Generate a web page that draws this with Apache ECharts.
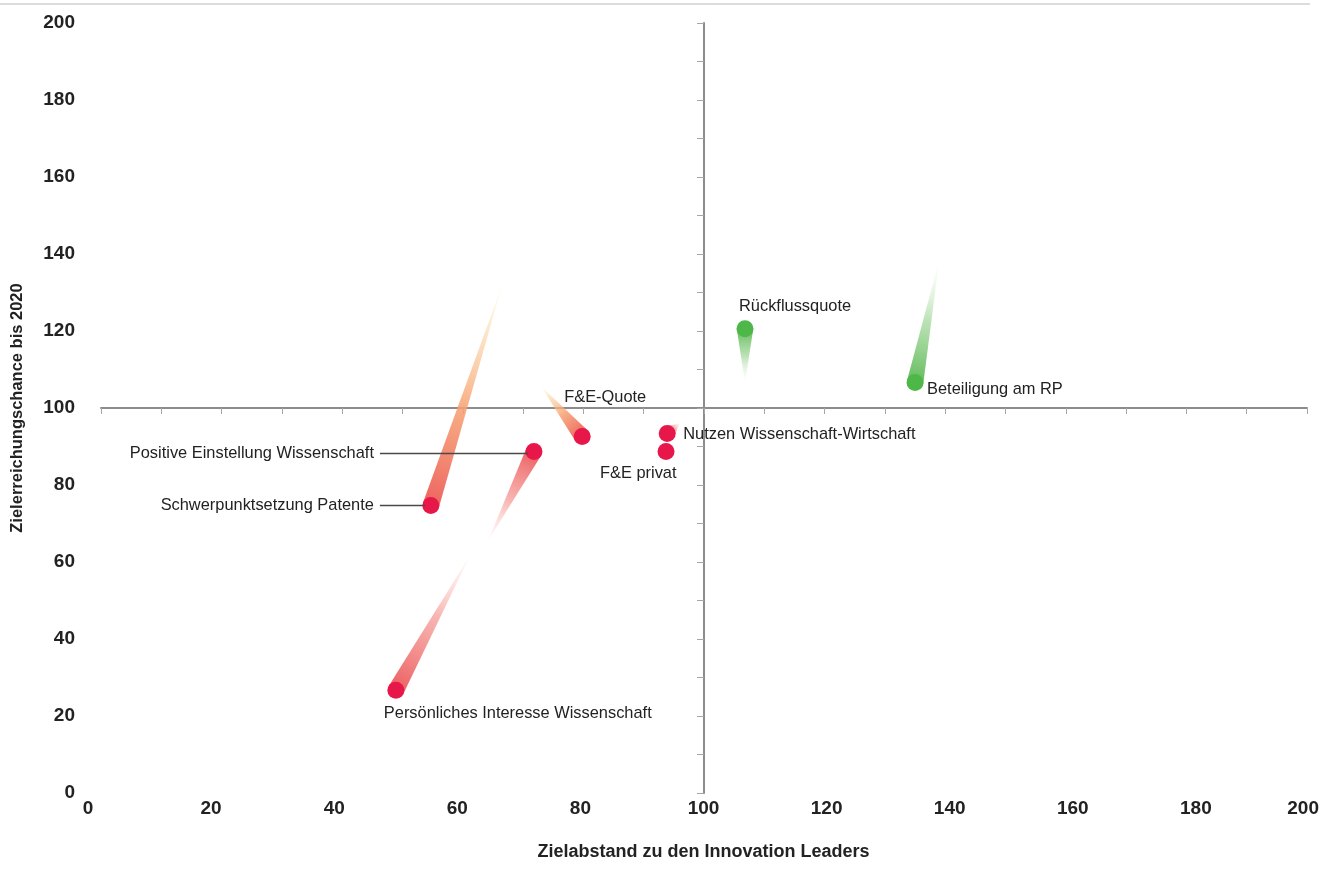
<!DOCTYPE html>
<html>
<head>
<meta charset="utf-8">
<script src="https://cdn.jsdelivr.net/npm/echarts@6/dist/echarts.min.js"></script>
<style>
html,body{margin:0;padding:0;background:#fff;}
#chart{width:1322px;height:888px;}
</style>
</head>
<body>
<div id="chart"></div>
<script>
// ---- data ----
const names = ['Rückflussquote', 'Beteiligung am RP', 'F&E-Quote', 'Nutzen Wissenschaft-Wirtschaft', 'F&E privat', 'Positive Einstellung Wissenschaft', 'Schwerpunktsetzung Patente', 'Persönliches Interesse Wissenschaft'];
const xNow  = [106.8, 135.0, 79.8, 93.9, 93.7, 71.8, 54.7, 48.9];
const yNow  = [120.6, 106.6, 92.6, 93.4, 88.7, 88.7, 74.7, 26.7];
const xPrev = [106.8, 139.0, 73.0, 96.0, null, 64.2, 66.5, 61.2];
const yPrev = [106.6, 138.3, 105.6, 96.0, null, 65.6, 131.8, 61.7];
const groups = ['green', 'green', 'red', 'red', 'red', 'red', 'red', 'red'];
const axisTicks = [0, 20, 40, 60, 80, 100, 120, 140, 160, 180, 200];
const xAxisTitle = 'Zielabstand zu den Innovation Leaders';
const yAxisTitle = 'Zielerreichungschance bis 2020';

// ---- styling ----
const RED = '#E8174A', GREEN = '#4DB848';
const tickFont = "'Liberation Sans', Arial, sans-serif";
const textFont = "'Liberation Sans', Arial, sans-serif";
const labelPlace = {
  'Rückflussquote': {align: 'left', offset: [-6, -22]},
  'Beteiligung am RP': {align: 'left', offset: [12, 7]},
  'F&E-Quote': {align: 'left', offset: [-18, -39]},
  'Nutzen Wissenschaft-Wirtschaft': {align: 'left', offset: [16, 1]},
  'F&E privat': {align: 'left', offset: [-66, 22]},
  'Positive Einstellung Wissenschaft': {align: 'right', offset: [-160, 2], leader: true},
  'Schwerpunktsetzung Patente': {align: 'right', offset: [-57, 0], leader: true},
  'Persönliches Interesse Wissenschaft': {align: 'left', offset: [-12, 23]}
};

function tailStops(i) {
  if (groups[i] === 'green') {
    return [{offset: 0, color: 'rgba(88,184,82,0.95)'}, {offset: 0.5, color: 'rgba(140,205,130,0.6)'}, {offset: 1, color: 'rgba(215,240,210,0)'}];
  }
  if (yPrev[i] > 100) {
    return [{offset: 0, color: 'rgba(236,92,88,0.95)'}, {offset: 0.45, color: 'rgba(247,160,112,0.85)'}, {offset: 0.8, color: 'rgba(252,210,160,0.55)'}, {offset: 1, color: 'rgba(255,238,200,0.15)'}];
  }
  return [{offset: 0, color: 'rgba(236,90,92,0.97)'}, {offset: 0.55, color: 'rgba(244,150,145,0.7)'}, {offset: 1, color: 'rgba(255,215,210,0.15)'}];
}

const pointData = names.map((n, i) => ({
  name: n,
  value: [xNow[i], yNow[i]],
  itemStyle: {color: groups[i] === 'green' ? GREEN : RED, opacity: 1},
  label: {
    show: true, position: 'inside', formatter: n,
    align: labelPlace[n].align, verticalAlign: 'middle',
    offset: labelPlace[n].offset,
    color: '#222', fontSize: 16.4, fontFamily: textFont
  }
}));
const tailData = names.map((n, i) => [xNow[i], yNow[i], xPrev[i], yPrev[i]]);
const leaderData = names.map((n, i) => [xNow[i], yNow[i], i]).filter(d => labelPlace[names[d[2]]].leader);

const chart = echarts.init(document.getElementById('chart'), null, {renderer: 'canvas'});
const hiddenAxis = {show: false, min: 0, max: 200};
chart.setOption({
  animation: false,
  backgroundColor: '#ffffff',
  graphic: [{type: 'rect', shape: {x: 0, y: 3, width: 1310, height: 2}, style: {fill: '#dcdcdc'}, silent: true}],
  grid: [
    {left: 101, right: 15, top: 23, bottom: 95, outerBoundsMode: 'none', containLabel: false},
    {left: 101, right: 15, top: 23, bottom: 480, outerBoundsMode: 'none', containLabel: false},
    {left: 704, width: 10, top: 23, bottom: 95, outerBoundsMode: 'none', containLabel: false},
    {left: 88, right: 3, top: 23, bottom: 95, outerBoundsMode: 'none', containLabel: false}
  ],
  xAxis: [
    Object.assign({gridIndex: 0, type: 'value'}, hiddenAxis),
    {gridIndex: 1, type: 'value', min: 0, max: 200, interval: 10,
      axisLine: {show: true, lineStyle: {color: '#8c8c8c', width: 2}},
      axisTick: {show: true, length: 6, lineStyle: {color: '#a6a6a6', width: 1}},
      axisLabel: {show: false}, splitLine: {show: false}},
    Object.assign({gridIndex: 2, type: 'value'}, hiddenAxis),
    {gridIndex: 3, type: 'value', min: 0, max: 200, interval: 20,
      axisLine: {show: false}, axisTick: {show: false}, splitLine: {show: false},
      axisLabel: {show: true, margin: 6, color: '#222', fontSize: 19, fontWeight: 'bold', fontFamily: tickFont,
        alignMaxLabel: 'right',
        formatter: v => axisTicks.includes(v) ? String(v) : ''},
      name: xAxisTitle, nameLocation: 'middle', nameGap: 50,
      nameTextStyle: {color: '#222', fontSize: 18, fontWeight: 'bold', fontFamily: tickFont}}
  ],
  yAxis: [
    {gridIndex: 0, type: 'value', min: 0, max: 200, interval: 20,
      axisLine: {show: false}, axisTick: {show: false}, splitLine: {show: false},
      axisLabel: {show: true, margin: 26, color: '#222', fontSize: 19, fontWeight: 'bold', fontFamily: tickFont,
        formatter: v => axisTicks.includes(v) ? String(v) : ''},
      name: yAxisTitle, nameLocation: 'middle', nameGap: 75,
      nameTextStyle: {color: '#222', fontSize: 16.5, fontWeight: 'bold', fontFamily: tickFont}},
    Object.assign({gridIndex: 1, type: 'value'}, hiddenAxis),
    {gridIndex: 2, type: 'value', position: 'left', min: 0, max: 200, interval: 10,
      axisLine: {show: true, lineStyle: {color: '#8c8c8c', width: 2}},
      axisTick: {show: true, length: 7, lineStyle: {color: '#a6a6a6', width: 1}},
      axisLabel: {show: false}, splitLine: {show: false}},
    Object.assign({gridIndex: 3, type: 'value'}, hiddenAxis)
  ],
  series: [
    {
      type: 'custom', xAxisIndex: 0, yAxisIndex: 0, z: 2, silent: true,
      data: tailData,
      renderItem: function (params, api) {
        const i = params.dataIndex;
        if (xPrev[i] == null) return null;
        const p1 = api.coord([api.value(0), api.value(1)]);
        const p0 = api.coord([api.value(2), api.value(3)]);
        const dx = p0[0] - p1[0], dy = p0[1] - p1[1];
        const len = Math.sqrt(dx * dx + dy * dy) || 1;
        const nx = -dy / len, ny = dx / len, hw = 8.3;
        return {
          type: 'polygon',
          shape: {points: [[p1[0] + nx * hw, p1[1] + ny * hw], [p1[0] - nx * hw, p1[1] - ny * hw], p0]},
          style: {fill: {type: 'linear', x: p1[0], y: p1[1], x2: p0[0], y2: p0[1], global: true, colorStops: tailStops(i)}}
        };
      }
    },
    {
      type: 'scatter', xAxisIndex: 0, yAxisIndex: 0, z: 3,
      symbol: 'circle', symbolSize: 17,
      data: pointData
    },
    {
      type: 'custom', xAxisIndex: 0, yAxisIndex: 0, z: 4, silent: true,
      data: leaderData,
      renderItem: function (params, api) {
        const p = api.coord([api.value(0), api.value(1)]);
        const off = labelPlace[names[api.value(2)]].offset;
        const y = p[1] + off[1];
        return {
          type: 'line',
          shape: {x1: p[0] + off[0] + 6, y1: y, x2: p[0] - 6, y2: y},
          style: {stroke: '#4a4a4a', lineWidth: 1.5}
        };
      }
    }
  ]
});
</script>
</body>
</html>
